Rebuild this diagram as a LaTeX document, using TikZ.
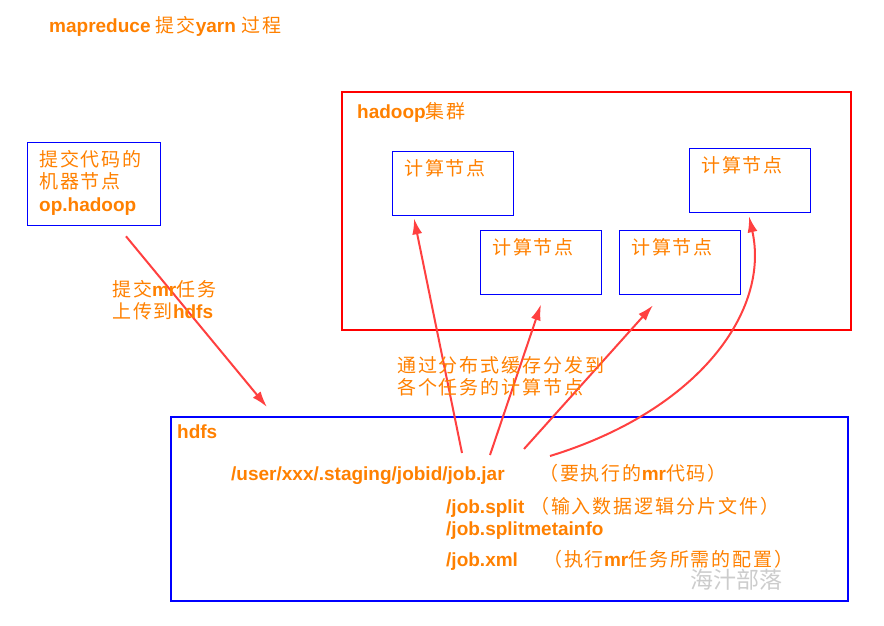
\documentclass[tikz,border=0pt]{standalone}
\usepackage{fontspec}
\setmainfont{Liberation Sans}
\newfontfamily\cjk[LetterSpace=10]{Noto Sans CJK SC}
\newfontfamily\cjkplain{Noto Sans CJK SC}
\usetikzlibrary{arrows.meta,calc,positioning}
\definecolor{txtorange}{HTML}{FF8000}
\definecolor{boxblue}{HTML}{0000FF}
\definecolor{clusterred}{HTML}{FF0000}
\definecolor{arrowred}{HTML}{FF4040}
\newcommand\zh[1]{{\mdseries\cjk\fontsize{19}{22}\selectfont #1}}

\tikzset{
  lbl/.style={text=txtorange, font=\bfseries\fontsize{19}{22}\selectfont, inner sep=0pt, anchor=base west},
  nodebox/.style={draw=boxblue, line width=1.3pt, anchor=north west, minimum width=121pt, minimum height=64pt, inner sep=0pt},
  push/.style={draw=arrowred, line width=2pt, -{Latex[length=16pt,width=10pt]}},
}

\begin{document}
\begin{tikzpicture}[x=1pt,y=-1pt]
    \useasboundingbox (0,0) rectangle (884,626);
    \node[lbl] (title) at (49,33) {mapreduce \zh{提交}yarn \zh{过程}};

    % Submitting machine
    \node[draw=boxblue, line width=1.3pt, anchor=north west, minimum width=133pt, minimum height=83pt] (sub) at (27,142) {};
    \node[lbl] (sub1) at (39,166) {\zh{提交代码的}};
    \node[lbl] (sub2) at (39,188) {\zh{机器节点}};
    \node[lbl] (sub3) at (39,211) {op.hadoop};

    % Hadoop cluster
    \node[draw=clusterred, line width=2pt, anchor=north west, minimum width=509pt, minimum height=238pt] (cluster) at (341,91) {};
    \node[lbl] (clusterlbl) at (357,118) {hadoop\zh{集群}};
    \node[nodebox] (cA) at (392,151) {};
    \node[nodebox] (cB) at (480,230) {};
    \node[nodebox] (cC) at (619,230) {};
    \node[nodebox] (cD) at (689,148) {};
    \foreach \n in {A,B,C,D} {
      \node[lbl] (t\n) at ([shift={(12,24)}]c\n.north west) {\zh{计算节点}};
    }

    % hdfs
    \node[draw=boxblue, line width=1.5pt, anchor=north west, minimum width=677pt, minimum height=184pt] (hdfs) at (170,416) {};
    \node[lbl] (hdfslbl) at (177,438) {hdfs};
    \node[lbl] (jar) at (231,480) {/user/xxx/.staging/jobid/job.jar};
    \node[lbl] (jarnote) at (539,480) {\zh{（要执行的}mr\zh{代码）}};
    \node[lbl] (split) at (446,513) {/job.split};
    \node[lbl] (splitnote) at (530,513) {\zh{（输入数据逻辑分片文件）}};
    \node[lbl] (meta) at (446,535) {/job.splitmetainfo};
    \node[lbl] (xml) at (446,566) {/job.xml};
    \node[lbl] (xmlnote) at (543,566) {\zh{（执行}mr\zh{任务所需的配置）}};
    \node[anchor=base west, inner sep=0pt, text=gray!40, font=\cjkplain\fontsize{23}{26}\selectfont] (mark) at (690,588) {海汁部落};

    % upload
    \coordinate (up) at ([shift={(99,10)}]sub.south west);
    \coordinate (upend) at ([shift={(97,-9)}]hdfs.north west);
    \draw[push] (up) -- (upend);
    \node[lbl] (uplbl1) at (112,296) {\zh{提交}mr\zh{任务}};
    \node[lbl] (uplbl2) at (112,318) {\zh{上传到}hdfs};

    % distributed cache
    \coordinate (j1) at (462,453);
    \coordinate (j2) at (490,455);
    \coordinate (j3) at (524,449);
    \coordinate (j4) at (550,456);
    \draw[push] (j1) -- ([shift={(22,2)}]cA.south west);
    \draw[push] (j2) -- ([shift={(61,9)}]cB.south west);
    \draw[push] (j3) -- ([shift={(34,10)}]cC.south west);
    \draw[push] (j4) .. controls (700,410) and (770,310) .. ([shift={(60,3)}]cD.south west);
    \node[lbl] (cache1) at (397,372) {\zh{通过分布式缓存分发到}};
    \node[lbl] (cache2) at (397,394) {\zh{各个任务的计算节点}};
\end{tikzpicture}
\end{document}
